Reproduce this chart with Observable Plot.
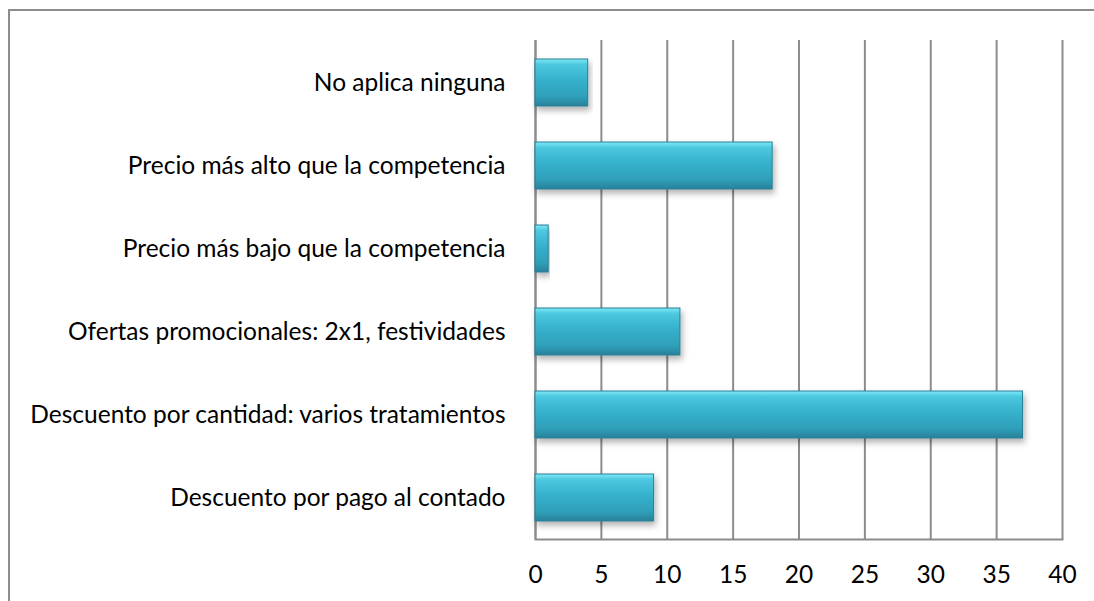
<!DOCTYPE html>
<html>
<head>
<meta charset="utf-8">
<script src="https://cdn.jsdelivr.net/npm/d3@7"></script>
<script src="https://cdn.jsdelivr.net/npm/@observablehq/plot@0.6"></script>
<style>
  html, body { margin: 0; padding: 0; background: #fff; overflow: hidden; }
  #wrap { position: relative; width: 1094px; height: 601px; }
  #border { position: absolute; left: 8px; top: 9px; width: 1200px; height: 700px; border: 2px solid #8c8c8c; box-sizing: border-box; }
  #chart { position: absolute; left: 0; top: 0; }
</style>
</head>
<body>
<div id="wrap"><div id="border"></div><div id="chart"></div></div>
<script>
const categories = [
  "No aplica ninguna",
  "Precio más alto que la competencia",
  "Precio más bajo que la competencia",
  "Ofertas promocionales: 2x1, festividades",
  "Descuento por cantidad: varios tratamientos",
  "Descuento por pago al contado"
];
const values = [4, 18, 1, 11, 37, 9];
const xTicks = [0, 5, 10, 15, 20, 25, 30, 35, 40];

const data = categories.map((c, i) => ({category: c, value: values[i]}));

const plot = Plot.plot({
  width: 1094,
  height: 601,
  marginLeft: 535,
  marginRight: 32,
  marginTop: 40,
  marginBottom: 62,
  style: {fontFamily: "Lato, 'Open Sans', sans-serif", fontSize: "24.5px", color: "#000", background: "transparent"},
  x: {domain: [0, 40], ticks: xTicks, label: null, tickSize: 0, tickPadding: 26},
  y: {domain: categories, label: null, tickSize: 0, tickPadding: 30, paddingInner: 0.435, paddingOuter: 0.2175},
  marks: [
    Plot.gridX(xTicks, {stroke: "#8c8c8c", strokeOpacity: 1, strokeWidth: 2}),
    Plot.ruleX([0], {stroke: "#8c8c8c", strokeWidth: 2}),
    Plot.frame({anchor: "bottom", stroke: "#8c8c8c", strokeWidth: 2}),
    Plot.barX(data, {x: "value", y: "category", fill: "url(#barGrad)", stroke: "#2b7f93", strokeWidth: 1})
  ]
});

// gradient & shadow defs
const ns = "http://www.w3.org/2000/svg";
const defs = document.createElementNS(ns, "defs");
defs.innerHTML = `
  <linearGradient id="barGrad" x1="0" y1="0" x2="0" y2="1">
    <stop offset="0" stop-color="#7ee9f7"/>
    <stop offset="0.12" stop-color="#4cc8df"/>
    <stop offset="0.45" stop-color="#36b1cc"/>
    <stop offset="0.8" stop-color="#2f9fb9"/>
    <stop offset="1" stop-color="#2a8199"/>
  </linearGradient>
  <filter id="shadow" x="-5%" y="-10%" width="115%" height="140%">
    <feDropShadow dx="2" dy="4" stdDeviation="3" flood-color="#000" flood-opacity="0.3"/>
  </filter>`;
plot.insertBefore(defs, plot.firstChild);
plot.querySelectorAll("g[aria-label='bar'] rect").forEach(r => r.setAttribute("filter", "url(#shadow)"));
document.getElementById("chart").appendChild(plot);
</script>
</body>
</html>
